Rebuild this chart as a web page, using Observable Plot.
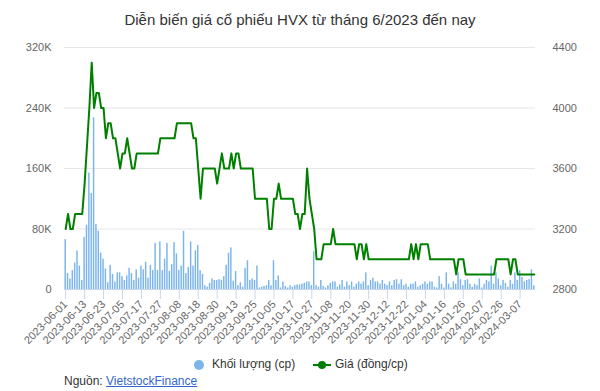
<!DOCTYPE html>
<html><head><meta charset="utf-8">
<script src="https://cdn.jsdelivr.net/npm/d3@7"></script>
<script src="https://cdn.jsdelivr.net/npm/@observablehq/plot@0.6"></script>
<style>
body{margin:0;background:#fff;font-family:"Liberation Sans",Arial,sans-serif;}
#wrap{position:relative;width:600px;height:391px;overflow:hidden;}
#title{position:absolute;top:11px;left:0;width:600px;text-align:center;font-size:15px;color:#333;}
#chart{position:absolute;top:36px;left:0;}
#legend{position:absolute;top:357px;left:0;width:600px;font-size:12px;color:#333;}
.li{position:absolute;top:0;white-space:nowrap;}
#src{position:absolute;top:374px;left:64px;font-size:12px;color:#333;}
#src a{color:#3366cc;text-decoration:underline;}
</style></head><body>
<div id="wrap">
<div id="title">Diễn biến giá cổ phiếu HVX từ tháng 6/2023 đến nay</div>
<div id="chart"></div>
<div id="legend">
  <svg class="li" style="left:193px;top:2px" width="12" height="12"><circle cx="6" cy="6" r="5" fill="#7cb5ec"/></svg>
  <span class="li" style="left:212px">Khối lượng (cp)</span>
  <svg class="li" style="left:313px;top:2px" width="18" height="12"><line x1="0" y1="6" x2="18" y2="6" stroke="#008000" stroke-width="2"/><circle cx="9" cy="6" r="4" fill="#008000"/></svg>
  <span class="li" style="left:335px">Giá (đồng/cp)</span>
</div>
<div id="src">Nguồn: <a>VietstockFinance</a></div>
</div>
<script>
// Tick labels (every 8th trading day)
const tickLabels = ["2023-06-01","2023-06-13","2023-06-23","2023-07-05","2023-07-17","2023-07-27","2023-08-08","2023-08-18","2023-08-30","2023-09-13","2023-09-25","2023-10-05","2023-10-17","2023-10-27","2023-11-08","2023-11-20","2023-11-30","2023-12-12","2023-12-22","2024-01-04","2024-01-16","2024-01-26","2024-02-07","2024-02-26","2024-03-07"];

// Price (đồng/cp), one per trading day
const price = [
3200,3300,3200,3200,3300,3300,3300,3300,3500,3750,
4000,4300,4000,4100,4100,4000,4000,3800,3900,3900,
3800,3800,3700,3600,3700,3700,3800,3700,3600,3600,
3700,3700,3700,3700,3700,3700,3700,3700,3700,3700,
3800,3800,3800,3800,3800,3800,3800,3900,3900,3900,
3900,3900,3900,3900,3800,3800,3600,3400,3600,3600,
3600,3600,3600,3600,3500,3600,3700,3600,3600,3600,
3700,3600,3700,3700,3600,3600,3600,3600,3600,3600,
3400,3400,3400,3400,3400,3400,3200,3200,3400,3400,
3500,3400,3400,3400,3400,3400,3400,3300,3300,3200,
3300,3300,3600,3400,3300,3200,3000,3000,3000,3100,
3100,3100,3100,3200,3100,3100,3100,3100,3100,3100,
3100,3100,3100,3000,3100,3100,3000,3100,3000,3000,
3000,3000,3000,3000,3000,3000,3000,3000,3000,3000,
3000,3000,3000,3000,3000,3000,3100,3000,3100,3000,
3100,3100,3100,3100,3000,3000,3000,3000,3000,3000,
3000,3000,3000,3000,3000,2900,3000,3000,3000,2900,
2900,2900,2900,2900,2900,2900,2900,2900,2900,2900,
2900,2900,3000,3000,3000,3000,3000,3000,2900,3000,
3000,2900,2900,2900,2900,2900,2900,2900,2900];

// Volume (thousand shares), one per trading day
const volumeK = [
66,21,14,25,35,51,31,12,69,85,
154,127,227,86,77,48,40,27,9,32,
20,10,22,22,17,12,18,28,21,12,
26,15,31,26,36,15,32,25,61,25,
63,25,40,61,24,33,62,47,25,31,
77,21,29,63,31,51,58,25,20,5,
3,8,14,12,12,13,12,17,32,48,
55,11,24,5,9,3,28,38,12,14,
12,31,2,3,4,5,12,5,38,12,
18,2,10,4,2,5,3,5,6,6,
7,8,10,10,5,50,5,3,12,4,
2,5,8,10,10,3,6,12,3,10,
5,10,3,7,10,7,10,22,5,12,
15,10,10,7,12,7,5,10,5,12,
13,7,13,5,7,3,7,7,10,3,
5,7,10,7,10,10,3,2,17,7,
2,22,7,2,10,7,22,13,5,12,
13,7,3,7,5,14,2,7,12,10,
31,7,22,14,5,12,8,3,12,7,
22,12,25,16,10,12,13,26,5];

const volTicks = [0, 80000, 160000, 240000, 320000];
const priceTicks = [2800, 3200, 3600, 4000, 4400];

const data = price.map((p, i) => ({i, p, v: volumeK[i] * 1000}));
// price mapped onto the volume axis: 2800..4400 -> 0..320000
const pMin = 2800, pMax = 4400, vMax = 320000;
const p2v = p => (p - pMin) / (pMax - pMin) * vMax;
const v2p = v => pMin + v / vMax * (pMax - pMin);

const chart = Plot.plot({
  width: 600, height: 318,
  marginTop: 11, marginBottom: 65, marginLeft: 64, marginRight: 65,
  style: {fontFamily: "Liberation Sans, Arial, sans-serif", fontSize: "11px", color: "#666", background: "white"},
  x: {type: "band", domain: data.map(d => d.i), padding: 0},
  y: {domain: [0, vMax]},
  marks: [
    Plot.ruleY(volTicks.slice(1), {stroke: "#e6e6e6"}),
    Plot.barY(data, {x: "i", y: "v", fill: "#7cb5ec", insetLeft: 0.45, insetRight: 0.45}),
    Plot.line(data, {x: "i", y: d => p2v(d.p), stroke: "#008000", strokeWidth: 2, strokeLinejoin: "round"}),
    Plot.ruleY([0], {stroke: "#ccd6eb"}),
    Plot.axisY({ticks: volTicks, tickFormat: d => d === 0 ? "0" : d / 1000 + "K", tickSize: 0, tickPadding: 13, anchor: "left", label: null}),
    Plot.axisY({ticks: priceTicks.map(p2v), tickFormat: d => String(Math.round(v2p(d))), tickSize: 0, tickPadding: 17, anchor: "right", label: null, textAnchor: "start"}),
    Plot.axisX({ticks: tickLabels.map((t, k) => k * 8), tickFormat: i => tickLabels[i / 8], tickRotate: -45, tickSize: 10, stroke: "#ccd6eb", tickPadding: 3, label: null})
  ]
});
document.getElementById("chart").appendChild(chart);
</script>
</body></html>
